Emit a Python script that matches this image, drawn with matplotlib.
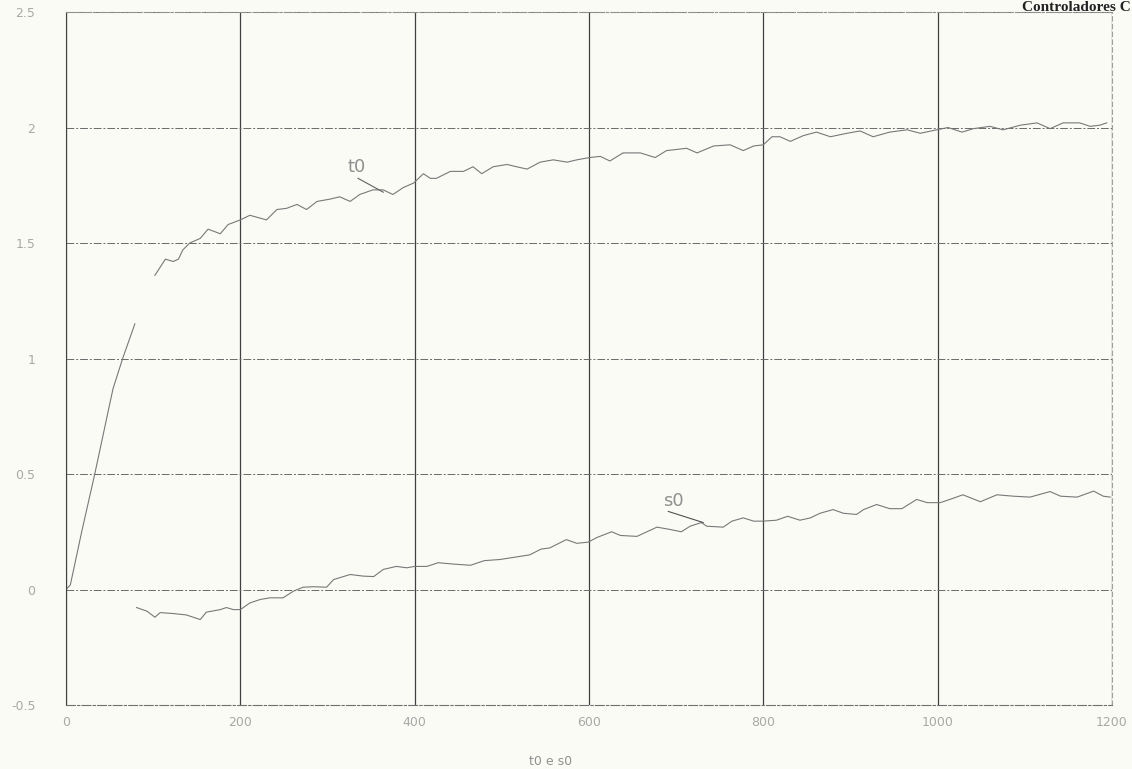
import numpy as np
import matplotlib.pyplot as plt

# t0: subida inicial, falha, depois a curva ondulada
t0_x = [0, 5, 18, 33, 50, 54, 65, 79, np.nan,
        102, 114, 123, 129, 134, 142, 154, 163, 177, 186, 200, 211, 230, 242, 253,
        265, 276, 288, 303, 314, 326, 337, 352, 364, 375, 387, 399, 410, 418, 425,
        441, 456, 467, 477, 490, 506, 517, 529, 544, 559, 575, 586, 601, 613, 624,
        639, 659, 676, 689, 712, 724, 743, 762, 777, 789, 800, 810, 819, 831, 846,
        861, 877, 896, 911, 926, 945, 965, 980, 999, 1012, 1028, 1041, 1060, 1075,
        1095, 1114, 1129, 1144, 1163, 1175, 1186, 1194]
t0_y = [0.0, 0.02, 0.25, 0.50, 0.80, 0.87, 1.00, 1.15, np.nan,
        1.36, 1.43, 1.42, 1.43, 1.47, 1.50, 1.52, 1.56, 1.54, 1.58, 1.60, 1.62, 1.60, 1.645, 1.65,
        1.667, 1.645, 1.68, 1.69, 1.70, 1.68, 1.71, 1.73, 1.73, 1.71, 1.74, 1.76, 1.80, 1.78, 1.78,
        1.81, 1.81, 1.83, 1.80, 1.83, 1.84, 1.83, 1.82, 1.85, 1.86, 1.85, 1.86, 1.87, 1.875, 1.855,
        1.89, 1.89, 1.87, 1.90, 1.91, 1.89, 1.92, 1.925, 1.90, 1.92, 1.925, 1.96, 1.96, 1.94, 1.965,
        1.98, 1.96, 1.975, 1.985, 1.96, 1.98, 1.99, 1.975, 1.99, 2.00, 1.98, 1.995, 2.005, 1.99,
        2.01, 2.02, 1.995, 2.02, 2.02, 2.005, 2.01, 2.02]

s0_x = [81, 93, 102, 108, 123, 138, 154, 161, 177, 184, 192, 200, 211, 223, 234, 249,
        261, 272, 284, 299, 307, 326, 341, 353, 364, 379, 391, 400, 414, 427, 445, 464,
        480, 498, 515, 532, 545, 555, 574, 586, 599, 609, 626, 636, 655, 678, 693, 706,
        716, 729, 735, 754, 764, 777, 789, 800, 815, 828, 842, 854, 865, 880, 892, 907,
        915, 930, 945, 959, 976, 988, 1003, 1014, 1029, 1049, 1068, 1087, 1106, 1129,
        1141, 1160, 1179, 1190, 1198]
s0_y = [-0.078, -0.094, -0.12, -0.10, -0.104, -0.11, -0.13, -0.098, -0.087, -0.078, -0.087,
        -0.087, -0.058, -0.043, -0.036, -0.036, -0.007, 0.01, 0.012, 0.01, 0.043, 0.065, 0.058,
        0.056, 0.087, 0.10, 0.094, 0.10, 0.10, 0.116, 0.11, 0.105, 0.125, 0.13, 0.14, 0.15,
        0.175, 0.18, 0.216, 0.20, 0.205, 0.225, 0.25, 0.234, 0.23, 0.27, 0.26, 0.25, 0.274,
        0.29, 0.274, 0.27, 0.296, 0.31, 0.296, 0.296, 0.30, 0.317, 0.30, 0.31, 0.33, 0.346,
        0.33, 0.325, 0.346, 0.368, 0.35, 0.35, 0.39, 0.376, 0.376, 0.39, 0.41, 0.38, 0.41,
        0.404, 0.40, 0.424, 0.404, 0.40, 0.426, 0.404, 0.40]

x_ticks = [0, 200, 400, 600, 800, 1000, 1200]
x_labels = ['0', '200', '400', '600', '800', '1000', '1200']
y_ticks = [-0.5, 0, 0.5, 1, 1.5, 2, 2.5]
y_labels = ['-0.5', '0', '0.5', '1', '1.5', '2', '2.5']

bg = '#fbfbf6'
fig = plt.figure(figsize=(11.32, 7.69), dpi=100, facecolor=bg)
ax = fig.add_axes([0.0583, 0.0832, 0.924, 0.9012], facecolor=bg)

ax.plot(t0_x, t0_y, color='#787878', lw=0.8)
ax.plot(s0_x, s0_y, color='#787878', lw=0.8)

ax.set_xlim(0, 1200)
ax.set_ylim(-0.5, 2.5)
ax.set_xticks(x_ticks)
ax.set_xticklabels(x_labels)
ax.set_yticks(y_ticks)
ax.set_yticklabels(y_labels)
ax.tick_params(length=0, labelsize=9, labelcolor='#a8a8a8')
ax.tick_params(axis='x', pad=8)
ax.tick_params(axis='y', pad=22)

# grade: verticais cheias, horizontais tracejadas
ax.xaxis.grid(True, color='#404040', lw=0.9, ls='-')
ax.yaxis.grid(True, color='#6a6a6a', lw=0.7, ls=(0, (8, 2, 2, 2)))
ax.set_axisbelow(True)
ax.spines['left'].set_color('#404040')
ax.spines['bottom'].set_color('#707070')
ax.spines['bottom'].set_linestyle((0, (8, 2, 2, 2)))
ax.spines['top'].set_color('#909090')
ax.spines['top'].set_linestyle((0, (8, 2, 2, 2)))
ax.spines['right'].set_color('#a0a0a0')
ax.spines['right'].set_linestyle((0, (4, 3)))
for s in ax.spines.values():
    s.set_linewidth(0.8)

ax.set_xlabel('t0 e s0', color='#909090', fontsize=9)
ax.xaxis.set_label_coords(0.463, -0.072)

# rotulos das curvas
ax.text(334, 1.83, 't0', color='#909090', fontsize=13, ha='center', va='center')
ax.plot([335, 364], [1.78, 1.72], color='#606060', lw=0.8)
ax.text(697, 0.385, 's0', color='#909090', fontsize=13, ha='center', va='center')
ax.plot([691, 731], [0.338, 0.29], color='#505050', lw=0.8)

fig.text(0.9985, 0.999, 'Controladores C', family='Liberation Serif', weight='bold',
         fontsize=11, color='#222222', ha='right', va='top')

fig.savefig('out.png', dpi=100, facecolor=bg)
